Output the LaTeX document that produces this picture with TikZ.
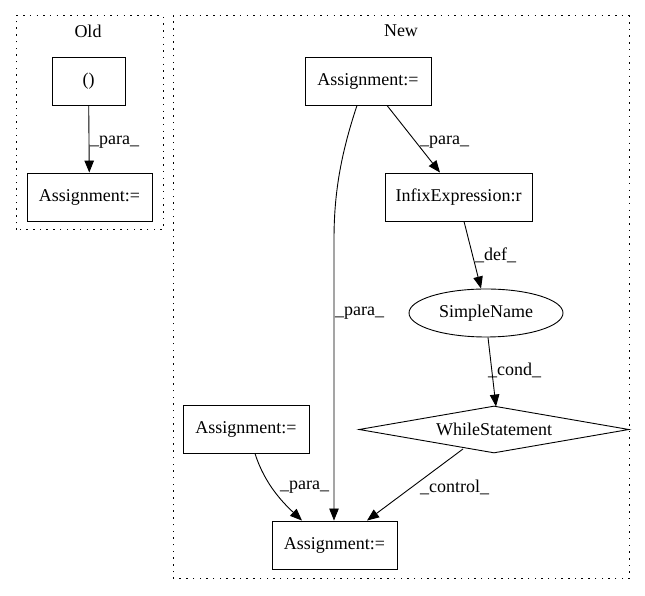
\documentclass[tikz,border=0pt]{standalone}
\usepackage{fontspec}
\setmainfont{Liberation Serif}
\usetikzlibrary{arrows.meta,shapes.geometric}
\begin{document}
\begin{tikzpicture}[x=1pt,y=1pt,
  every node/.style={font=\fontsize{18}{22}\selectfont},
  box/.style={draw,line width=0.9pt,rectangle,inner sep=0pt,minimum height=48pt},
  cluster/.style={draw,line width=1pt,dash pattern=on 1.5pt off 5.2pt},
  edge/.style={draw,line width=0.9pt,-{Triangle[length=12pt,width=9.5pt]}},
  elabel/.style={anchor=west,inner sep=0pt}]
\useasboundingbox (0,0) rectangle (645,596);
% clusters
\draw[cluster] (16,366) rectangle (163,580);
\node (oldlbl) at (88,565) {Old};
\draw[cluster] (173,17) rectangle (629,580);
\node (newlbl) at (401,565) {New};
% old nodes
\node[box,minimum width=73pt] (oparen) at (88.5,515) {()};
\node[box,minimum width=125pt] (oassign) at (89.5,399) {Assignment:=};
% new nodes
\node[box,minimum width=126pt] (atop) at (368,515) {Assignment:=};
\node[box,minimum width=147pt] (infix) at (458.5,399) {InfixExpression:r};
\node[draw,line width=0.9pt,ellipse,inner sep=0pt,minimum width=154pt,minimum height=48pt] (simple) at (486,283) {SimpleName};
\node[draw,line width=0.9pt,diamond,aspect=5.7,inner sep=0pt,minimum width=270pt,minimum height=47pt] (while) at (494,166.5) {WhileStatement};
\node[box,minimum width=126pt] (aleft) at (246,167) {Assignment:=};
\node[box,minimum width=125pt] (abot) at (334.5,51) {Assignment:=};
% edges
\draw[edge] (oparen) -- (oassign);
\node[elabel] (l1) at (90,454) {\_para\_};
\draw[edge] ([xshift=19pt]atop.south) -- ([xshift=-18.5pt]infix.north);
\node[elabel] (l2) at (420,454) {\_para\_};
\draw[edge] ([xshift=5.5pt]infix.south) -- ([xshift=-5pt]simple.north);
\node[elabel] (l3) at (475,341) {\_def\_};
\draw[edge] ([xshift=2pt]simple.south) -- ([xshift=2pt,yshift=-1pt]while.north);
\node[elabel] (l4) at (488,226) {\_cond\_};
\draw[edge] ([xshift=-11pt]atop.south) .. controls +(-17,-51) and +(0,44) .. ([xshift=-0.5pt,yshift=281pt]abot.north) -- ([xshift=-0.5pt]abot.north);
\node[elabel] (l5) at (335,283) {\_para\_};
\draw[edge] ([xshift=9pt]aleft.south) .. controls +(10,-32) and +(-17,16) .. ([xshift=-32.5pt]abot.north);
\node[elabel] (l6) at (280,109) {\_para\_};
\draw[edge] ([shift={(-31pt,-19.5pt)}]while.center) -- ([xshift=32.5pt]abot.north);
\node[elabel] (l7) at (420,109) {\_control\_};
\end{tikzpicture}
\end{document}
